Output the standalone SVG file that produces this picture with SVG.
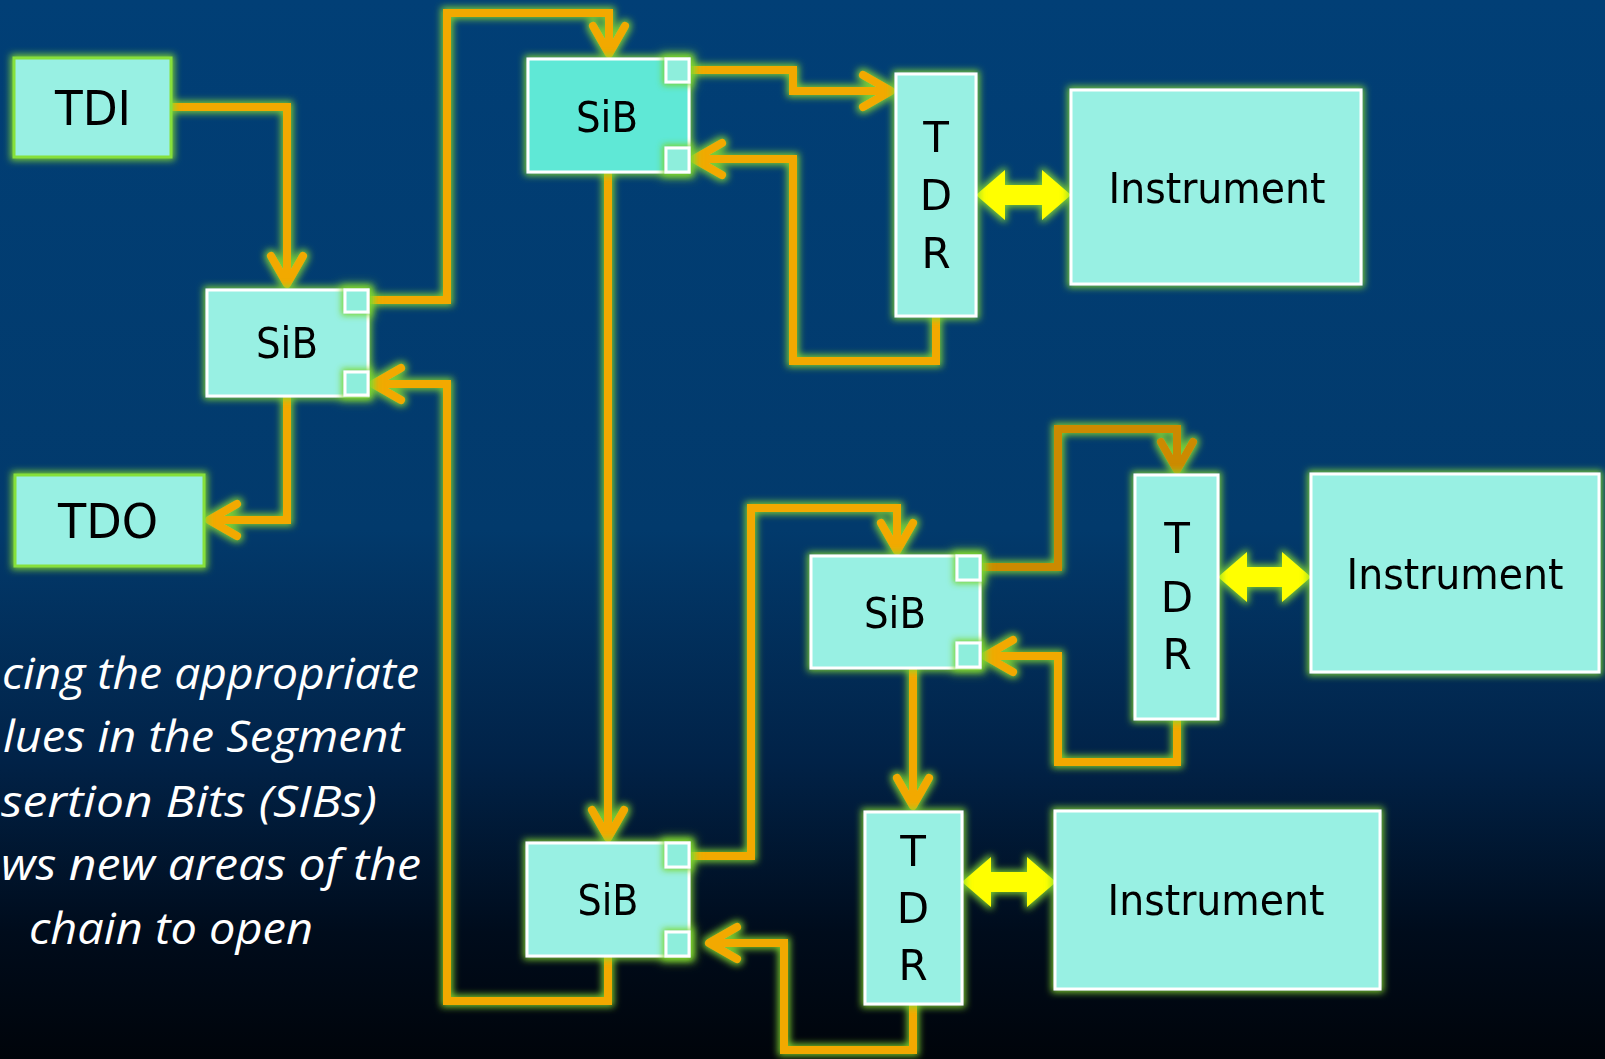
<svg xmlns="http://www.w3.org/2000/svg" width="1605" height="1059" viewBox="0 0 1605 1059">
<defs>
<linearGradient id="bg" x1="0" y1="0" x2="0" y2="1">
<stop offset="0" stop-color="#013f76"/>
<stop offset="0.5" stop-color="#023a6c"/>
<stop offset="0.72" stop-color="#012247"/>
<stop offset="0.88" stop-color="#000c1c"/>
<stop offset="1" stop-color="#00040a"/>
</linearGradient>
<filter id="glow" x="-30%" y="-30%" width="160%" height="160%">
<feMorphology in="SourceAlpha" operator="dilate" radius="2" result="d"/>
<feGaussianBlur in="d" stdDeviation="3.5" result="b"/>
<feFlood flood-color="#86dc30" flood-opacity="0.9"/>
<feComposite in2="b" operator="in" result="g"/>
<feMerge><feMergeNode in="g"/><feMergeNode in="SourceGraphic"/></feMerge>
</filter>
<filter id="pglow" x="-60%" y="-60%" width="220%" height="220%">
<feMorphology in="SourceAlpha" operator="dilate" radius="2" result="d"/>
<feGaussianBlur in="d" stdDeviation="3" result="b"/>
<feFlood flood-color="#7ad62a" flood-opacity="0.95"/>
<feComposite in2="b" operator="in" result="g"/>
<feMerge><feMergeNode in="g"/><feMergeNode in="SourceGraphic"/></feMerge>
</filter>
<marker id="ah" markerUnits="userSpaceOnUse" viewBox="-40 -25 50 50" markerWidth="50" markerHeight="50" refX="0" refY="0" orient="auto" overflow="visible">
<path d="M-28,-16 L0,0 L-28,16" fill="none" stroke="#f2a900" stroke-width="8" stroke-linecap="round" stroke-linejoin="round"/>
</marker>
<marker id="ahd" markerUnits="userSpaceOnUse" viewBox="-40 -25 50 50" markerWidth="50" markerHeight="50" refX="0" refY="0" orient="auto" overflow="visible">
<path d="M-28,-16 L0,0 L-28,16" fill="none" stroke="#cc8a06" stroke-width="8" stroke-linecap="round" stroke-linejoin="round"/>
</marker>
</defs>
<style>
.box{fill:#98f0e3;stroke:#ffffff;stroke-width:3}
.term{fill:#98f0e3;stroke:#86e03a;stroke-width:3}
.sibA{fill:#5ee8d6;stroke:#ffffff;stroke-width:3}
.port{fill:#8eeedc;stroke:#ffffff;stroke-width:3}
.lbl{font-family:"DejaVu Sans",sans-serif;fill:#000000;text-anchor:middle}
.big{font-size:48px}
.mid{font-size:42px}
.wire{fill:none;stroke:#f2a900;stroke-width:8;stroke-linejoin:miter}
.dark{stroke:#cc8a06}
.dbl{fill:#ffff00}
.note{font-family:"Open Sans","Liberation Sans",sans-serif;font-style:italic;font-size:43px;fill:#ffffff}
</style>
<rect x="0" y="0" width="1605" height="1059" fill="url(#bg)"/>

<g id="connectors" filter="url(#glow)">
<path class="wire" d="M171,107 H287 V284" marker-end="url(#ah)"/>
<path class="wire" d="M368,300 H447 V13 H609 V54" marker-end="url(#ah)"/>
<path class="wire" d="M608,172 V838" marker-end="url(#ah)"/>
<path class="wire" d="M608,956 V1001 H447 V384 H373" marker-end="url(#ah)"/>
<path class="wire" d="M287,396 V520 H209" marker-end="url(#ah)"/>
<path class="wire" d="M689,70 H793 V91 H891" marker-end="url(#ah)"/>
<path class="wire" d="M936,316 V361 H793 V159 H694" marker-end="url(#ah)"/>
<path class="wire" d="M689,856 H751 V508 H897 V551" marker-end="url(#ah)"/>
<path class="wire" d="M913,668 V806" marker-end="url(#ah)"/>
<path class="wire dark" d="M980,567 H1058 V429 H1177 V470" marker-end="url(#ahd)"/>
<path class="wire" d="M1177,719 V762 H1058 V656 H985" marker-end="url(#ah)"/>
<path class="wire" d="M913,1004 V1050 H784 V943 H709" marker-end="url(#ah)"/>
<polygon class="dbl" points="976,195 1005,170 1005,185 1042,185 1042,170 1071,195 1042,220 1042,205 1005,205 1005,220"/>
<polygon class="dbl" points="1218,577 1247,552 1247,567 1282,567 1282,552 1311,577 1282,602 1282,587 1247,587 1247,602"/>
<polygon class="dbl" points="962,882 991,857 991,872 1027,872 1027,857 1056,882 1027,907 1027,892 991,892 991,907"/>
</g>

<g id="tdi" filter="url(#glow)">
<rect class="term" x="14" y="58" width="157" height="99"/>
<text class="lbl big" x="93" y="125" textLength="76" lengthAdjust="spacingAndGlyphs">TDI</text>
</g>
<g id="tdo" filter="url(#glow)">
<rect class="term" x="15" y="475" width="189" height="91"/>
<text class="lbl big" x="108" y="538" textLength="100" lengthAdjust="spacingAndGlyphs">TDO</text>
</g>
<g id="sib1" filter="url(#glow)">
<rect class="box" x="207" y="290" width="161" height="106"/>
<rect class="port" x="345" y="290" width="23" height="22" filter="url(#pglow)"/>
<rect class="port" x="345" y="372" width="23" height="23" filter="url(#pglow)"/>
<text class="lbl mid" x="287" y="358" textLength="62" lengthAdjust="spacingAndGlyphs">SiB</text>
</g>
<g id="sib-top" filter="url(#glow)">
<rect class="sibA" x="528" y="59" width="161" height="113"/>
<rect class="port" x="666" y="59" width="23" height="23" filter="url(#pglow)"/>
<rect class="port" x="666" y="148" width="23" height="24" filter="url(#pglow)"/>
<text class="lbl mid" x="607" y="132" textLength="62" lengthAdjust="spacingAndGlyphs">SiB</text>
</g>
<g id="tdr-top" filter="url(#glow)">
<rect class="box" x="896" y="74" width="80" height="242"/>
<text class="lbl mid" x="936" y="152">T</text>
<text class="lbl mid" x="936" y="210">D</text>
<text class="lbl mid" x="936" y="268">R</text>
</g>
<g id="inst-top" filter="url(#glow)">
<rect class="box" x="1071" y="90" width="290" height="194"/>
<text class="lbl mid" x="1217" y="203" textLength="217" lengthAdjust="spacingAndGlyphs">Instrument</text>
</g>
<g id="sib-mid" filter="url(#glow)">
<rect class="box" x="811" y="556" width="169" height="112"/>
<rect class="port" x="957" y="556" width="23" height="24" filter="url(#pglow)"/>
<rect class="port" x="957" y="643" width="23" height="24" filter="url(#pglow)"/>
<text class="lbl mid" x="895" y="628" textLength="62" lengthAdjust="spacingAndGlyphs">SiB</text>
</g>
<g id="tdr-mid" filter="url(#glow)">
<rect class="box" x="1135" y="475" width="83" height="244"/>
<text class="lbl mid" x="1177" y="553">T</text>
<text class="lbl mid" x="1177" y="612">D</text>
<text class="lbl mid" x="1177" y="669">R</text>
</g>
<g id="inst-mid" filter="url(#glow)">
<rect class="box" x="1311" y="474" width="288" height="198"/>
<text class="lbl mid" x="1455" y="589" textLength="217" lengthAdjust="spacingAndGlyphs">Instrument</text>
</g>
<g id="sib-bottom" filter="url(#glow)">
<rect class="box" x="527" y="843" width="162" height="113"/>
<rect class="port" x="666" y="843" width="23" height="24" filter="url(#pglow)"/>
<rect class="port" x="666" y="932" width="23" height="24" filter="url(#pglow)"/>
<text class="lbl mid" x="608" y="915" textLength="61" lengthAdjust="spacingAndGlyphs">SiB</text>
</g>
<g id="tdr-bottom" filter="url(#glow)">
<rect class="box" x="865" y="812" width="97" height="192"/>
<text class="lbl mid" x="913" y="866">T</text>
<text class="lbl mid" x="913" y="923">D</text>
<text class="lbl mid" x="913" y="980">R</text>
</g>
<g id="inst-bottom" filter="url(#glow)">
<rect class="box" x="1055" y="811" width="325" height="178"/>
<text class="lbl mid" x="1216" y="915" textLength="217" lengthAdjust="spacingAndGlyphs">Instrument</text>
</g>

<g id="note">
<text class="note" x="2" y="689" textLength="417" lengthAdjust="spacingAndGlyphs">cing the appropriate</text>
<text class="note" x="3" y="752" textLength="401" lengthAdjust="spacingAndGlyphs">lues in the Segment</text>
<text class="note" x="1" y="817" textLength="376" lengthAdjust="spacingAndGlyphs">sertion Bits (SIBs)</text>
<text class="note" x="1" y="880" textLength="420" lengthAdjust="spacingAndGlyphs">ws new areas of the</text>
<text class="note" x="29" y="944" textLength="284" lengthAdjust="spacingAndGlyphs">chain to open</text>
</g>
</svg>
